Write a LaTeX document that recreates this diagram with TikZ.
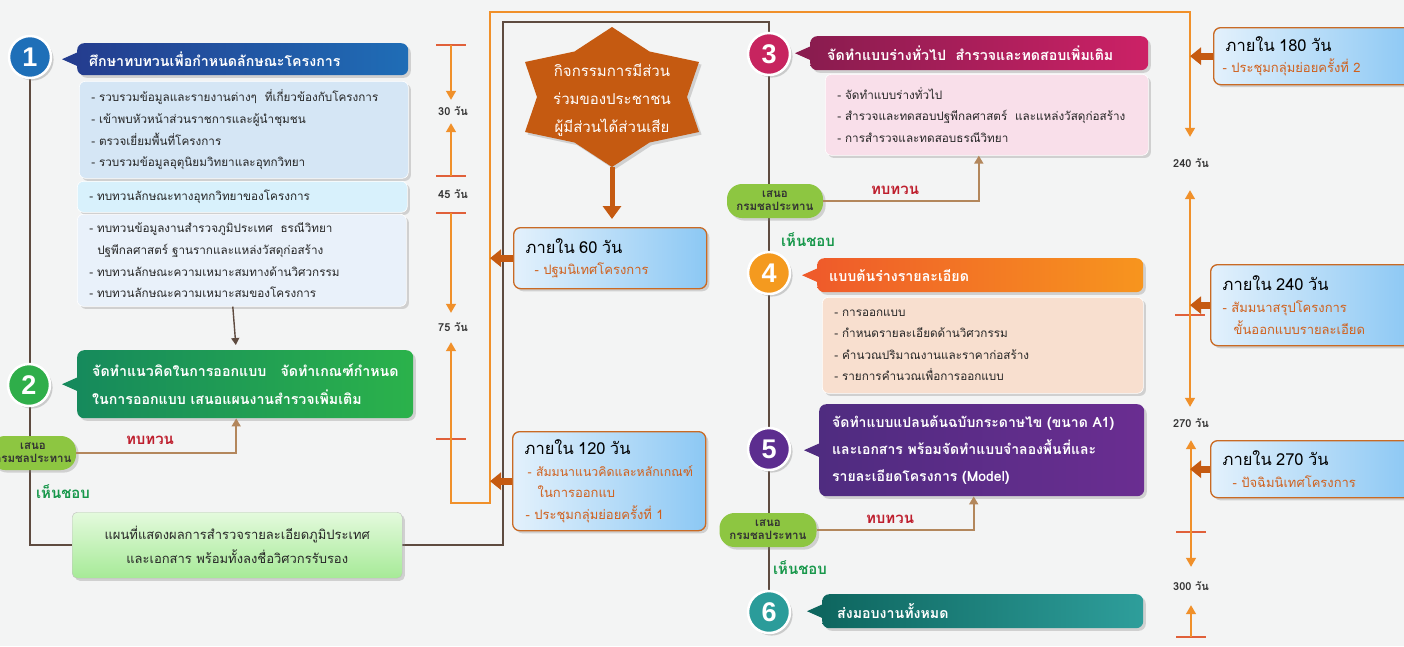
\documentclass[tikz,border=0pt]{standalone}
\usepackage{fontspec}
\setmainfont[Script=Thai]{Loma}
\newfontfamily\numfont{Liberation Sans}
\usetikzlibrary{arrows.meta, calc, shadows}
\exhyphenpenalty=10000

\definecolor{bgcol}{HTML}{F3F4F4}
\definecolor{trunk}{HTML}{5E4B40}
\definecolor{frameor}{HTML}{F0902A}
\definecolor{tickred}{HTML}{E0603A}
\definecolor{fbtan}{HTML}{B3875C}
\definecolor{bigor}{HTML}{C55A11}
\definecolor{subor}{HTML}{D0601C}
\definecolor{timeL}{HTML}{E3F1FC}
\definecolor{timeR}{HTML}{8CC8F4}
\definecolor{timeedge}{HTML}{C96A24}
\definecolor{pillg}{HTML}{8DC641}
\definecolor{okgreen}{HTML}{17974A}
\definecolor{revred}{HTML}{BE1E2D}
\definecolor{s1col}{HTML}{1E6FB8}
\definecolor{s1dark}{HTML}{243D8F}
\definecolor{s1light}{HTML}{1F6DB6}
\definecolor{s2col}{HTML}{2FAE4A}
\definecolor{s2dark}{HTML}{168A5C}
\definecolor{s2light}{HTML}{2BB24B}
\definecolor{s3col}{HTML}{C7245F}
\definecolor{s3dark}{HTML}{8A1C4F}
\definecolor{s3light}{HTML}{CC2166}
\definecolor{s4col}{HTML}{F49A1F}
\definecolor{s4dark}{HTML}{EF5B2A}
\definecolor{s4light}{HTML}{F7951E}
\definecolor{s5col}{HTML}{5C2D8F}
\definecolor{s5dark}{HTML}{4F2C80}
\definecolor{s5light}{HTML}{6A2D91}
\definecolor{s6col}{HTML}{2B9C9A}
\definecolor{s6dark}{HTML}{0E665F}
\definecolor{s6light}{HTML}{2E9E9B}
\definecolor{list1a}{HTML}{D5E6F5}
\definecolor{list1b}{HTML}{D8F1FC}
\definecolor{list1c}{HTML}{E9F1FA}
\definecolor{list3}{HTML}{F9DFEA}
\definecolor{list4}{HTML}{F8DFCF}
\definecolor{mapT}{HTML}{E4FADD}
\definecolor{mapB}{HTML}{A6EA97}

\newcommand\hdrfont{\bfseries\fontsize{14.2}{28}\selectfont}
\newcommand\listfont{\fontsize{11.7}{21.6}\selectfont}
\newcommand\subfont{\fontsize{13}{21.6}\selectfont}
\newcommand\titfont{\fontsize{16.5}{22}\selectfont}
\newcommand\pillfont{\bfseries\fontsize{11.5}{13}\selectfont}
\newcommand\dayfont{\bfseries\fontsize{11}{11}\selectfont}

\pgfdeclarelayer{back}
\pgfsetlayers{back,main}

\tikzset{
  stepnum/.style={circle, draw=white, line width=2.5pt, minimum size=42pt, inner sep=0pt, text=white, font=\numfont\bfseries\fontsize{27}{27}\selectfont, drop shadow={opacity=0.35}},
  hdr/.style={anchor=north west, rounded corners=7pt, inner xsep=12pt, inner ysep=0pt, align=left, text=white, font=\hdrfont, drop shadow={opacity=0.3}},
  listbox/.style={anchor=north west, rounded corners=6pt, inner xsep=12pt, inner ysep=0pt, align=left, font=\listfont, text=black!85, draw=white, line width=0.6pt, drop shadow={opacity=0.3}},
  timebox/.style={anchor=north west, rounded corners=7pt, draw=timeedge, line width=1.3pt, left color=timeL, right color=timeR, inner xsep=12pt, inner ysep=0pt, align=left, font=\subfont, drop shadow={opacity=0.3}},
  pill/.style={rounded corners=15pt, fill=pillg, minimum height=34pt, align=center, inner sep=0pt, font=\pillfont, text=black!80, drop shadow={opacity=0.3}},
  dayl/.style={font=\dayfont, text=black!80, inner sep=0pt, minimum width=34pt, minimum height=#1},
  trunkline/.style={draw=trunk, line width=1.6pt},
  tickline/.style={draw=tickred, line width=1.4pt},
  dayarrow/.style={draw=frameor, line width=1.4pt, -{Triangle[width=10pt,length=9pt]}},
  fbarrow/.style={draw=fbtan, line width=1.6pt, -{Triangle[width=9pt,length=8pt]}},
  bigarrow/.style={draw=bigor, line width=7pt, -{Triangle[width=17pt,length=11pt]}},
  revlabel/.style={font=\bfseries\fontsize{15}{15}\selectfont, text=revred},
  oklabel/.style={font=\bfseries\fontsize{15}{15}\selectfont, text=okgreen},
}

\begin{document}
\begin{tikzpicture}[x=1pt, y=-1pt]
  \begin{pgfonlayer}{back}
    \fill[bgcol] (0,0) rectangle (1404,646);
  \end{pgfonlayer}
  \useasboundingbox (0,0) rectangle (1404,646);

  % step 1 and 2
  \node[stepnum, fill=s1col] (c1) at (30,57) {1};
  \node[hdr, left color=s1dark, right color=s1light, text width=307pt, minimum height=32pt] (hdr1) at (77,43) {ศึกษาทบทวนเพื่อกำหนดลักษณะโครงการ};
  \fill[s1dark] ([xshift=3pt,yshift=8pt]hdr1.west) -- ++(-18pt,-8pt) -- ++(18pt,-8pt) -- cycle;
  \node[listbox, fill=list1a, text width=305pt, minimum height=97pt] (l1a) at (79,81) {- รวบรวมข้อมูลและรายงานต่างๆ~ ที่เกี่ยวข้องกับโครงการ\\- เข้าพบหัวหน้าส่วนราชการและผู้นำชุมชน\\- ตรวจเยี่ยมพื้นที่โครงการ\\- รวบรวมข้อมูลอุตุนิยมวิทยาและอุทกวิทยา};
  \node[listbox, fill=list1b, text width=306pt, minimum height=31pt] (l1b) at (77,181) {- ทบทวนลักษณะทางอุทกวิทยาของโครงการ};
  \node[listbox, fill=list1c, text width=305pt, minimum height=92pt] (l1c) at (77,214) {- ทบทวนข้อมูลงานสำรวจภูมิประเทศ~ ธรณีวิทยา\\\hspace*{8pt}ปฐพีกลศาสตร์ ฐานรากและแหล่งวัสดุก่อสร้าง\\- ทบทวนลักษณะความเหมาะสมทางด้านวิศวกรรม\\- ทบทวนลักษณะความเหมาะสมของโครงการ};

  \node[stepnum, fill=s2col] (c2) at (29,385) {2};
  \node[hdr, left color=s2dark, right color=s2light, text width=306pt, inner xsep=15pt, minimum height=68pt] (hdr2) at (77,350) {จัดทำแนวคิดในการออกแบบ~~ จัดทำเกณฑ์กำหนด\\ในการออกแบบ เสนอแผนงานสำรวจเพิ่มเติม};
  \fill[s2dark] ([xshift=3pt,yshift=8pt]hdr2.west) -- ++(-18pt,-8pt) -- ++(18pt,-8pt) -- cycle;
  \node[pill, minimum width=86pt] (p2) at (33,453) {เสนอ\\กรมชลประทาน};
  \node[revlabel] (rev2) at (150,440) {ทบทวน};
  \node[oklabel] (ok2) at (63,492) {เห็นชอบ};
  \node[anchor=north west, rounded corners=5pt, draw=black!25, top color=mapT, bottom color=mapB, text width=306pt, inner xsep=12pt, minimum height=66pt, align=center, font=\fontsize{13}{24}\selectfont, text=black!85, drop shadow={opacity=0.3}] (map) at (72,512) {แผนที่แสดงผลการสำรวจรายละเอียดภูมิประเทศ\\และเอกสาร พร้อมทั้งลงชื่อวิศวกรรับรอง};

  % participation
  \fill[bigor, drop shadow={opacity=0.3}] (612,27) -- (649.5,51.5) -- (699,62) -- (687,97) -- (699,132) -- (649.5,142.5) -- (612,167) -- (574.5,142.5) -- (525,132) -- (537,97) -- (525,62) -- (574.5,51.5) -- cycle;
  \node[align=center, text=white, font=\fontsize{15}{28}\selectfont] (act) at (612,100) {กิจกรรมการมีส่วน\\ร่วมของประชาชน\\ผู้มีส่วนได้ส่วนเสีย};
  \coordinate (starbot) at (612,167);

  \node[timebox, text width=169pt, minimum height=61pt] (t60) at (513,227) {{\titfont ภายใน 60 วัน}\\\color{subor}\hspace*{9pt}-~ปฐมนิเทศโครงการ};
  \node[timebox, inner xsep=9pt, text width=175pt, minimum height=99pt] (t120) at (512,431) {\hspace*{3pt}{\titfont ภายใน 120 วัน}\\\color{subor}\hspace*{6pt}\mbox{\fontsize{12.3}{21.6}\selectfont-~สัมมนาแนวคิดและหลักเกณฑ์}\\\color{subor}\hspace*{16pt}ในการออกแบ\\\color{subor}\hspace*{4pt}-~ประชุมกลุ่มย่อยครั้งที่ 1};

  % step 3 to 6
  \node[stepnum, fill=s3col] (c3) at (769,54) {3};
  \node[hdr, left color=s3dark, right color=s3light, text width=304pt, inner xsep=17pt, minimum height=34pt] (hdr3) at (810,36) {จัดทำแบบร่างทั่วไป~ สำรวจและทดสอบเพิ่มเติม};
  \fill[s3dark] ([xshift=3pt,yshift=8pt]hdr3.west) -- ++(-18pt,-8pt) -- ++(18pt,-8pt) -- cycle;
  \node[listbox, fill=list3, text width=299pt, minimum height=81pt] (l3) at (825,74) {- จัดทำแบบร่างทั่วไป\\- สำรวจและทดสอบปฐพีกลศาสตร์~ และแหล่งวัสดุก่อสร้าง\\- การสำรวจและทดสอบธรณีวิทยา};
  \node[pill, minimum width=96pt] (p3) at (775,201) {เสนอ\\กรมชลประทาน};
  \node[revlabel] (rev3) at (895,190) {ทบทวน};
  \node[oklabel] (ok3) at (808,240) {เห็นชอบ};

  \node[stepnum, fill=s4col] (c4) at (769,273) {4};
  \node[hdr, left color=s4dark, right color=s4light, text width=302pt, minimum height=34pt] (hdr4) at (817,258) {แบบต้นร่างรายละเอียด};
  \fill[s4dark] ([xshift=3pt,yshift=8pt]hdr4.west) -- ++(-18pt,-8pt) -- ++(18pt,-8pt) -- cycle;
  \node[listbox, fill=list4, text width=297pt, minimum height=96pt] (l4) at (822,297) {- การออกแบบ\\- กำหนดรายละเอียดด้านวิศวกรรม\\- คำนวณปริมาณงานและราคาก่อสร้าง\\- รายการคำนวณเพื่อการออกแบบ};

  \node[stepnum, fill=s5col] (c5) at (769,449) {5};
  \node[hdr, left color=s5dark, right color=s5light, text width=299pt, inner xsep=13pt, minimum height=92pt, font=\bfseries\fontsize{14}{27}\selectfont] (hdr5) at (819,404) {จัดทำแบบแปลนต้นฉบับกระดาษไข (ขนาด~A1)\\และเอกสาร พร้อมจัดทำแบบจำลองพื้นที่และ\\รายละเอียดโครงการ (Model)};
  \fill[s5dark] ([xshift=3pt,yshift=8pt]hdr5.west) -- ++(-18pt,-8pt) -- ++(18pt,-8pt) -- cycle;
  \node[pill, minimum width=97pt] (p5) at (768,530) {เสนอ\\กรมชลประทาน};
  \node[revlabel] (rev5) at (890,519) {ทบทวน};
  \node[oklabel] (ok5) at (800,568) {เห็นชอบ};

  \node[stepnum, fill=s6col] (c6) at (769,612) {6};
  \node[hdr, left color=s6dark, right color=s6light, text width=291pt, inner xsep=15pt, minimum height=34pt] (hdr6) at (822,594) {ส่งมอบงานทั้งหมด};
  \fill[s6dark] ([xshift=3pt,yshift=8pt]hdr6.west) -- ++(-18pt,-8pt) -- ++(18pt,-8pt) -- cycle;

  % time boxes on the right
  \node[timebox, text width=176pt, minimum height=57pt] (t180) at (1213,27) {{\titfont ภายใน 180 วัน}\\\color{subor}\hspace*{-3pt}-~ประชุมกลุ่มย่อยครั้งที่ 2};
  \node[timebox, text width=176pt, minimum height=81pt] (t240) at (1210,264) {{\titfont ภายใน 240 วัน}\\\color{subor}-~สัมมนาสรุปโครงการ\\\color{subor}\hspace*{11pt}ขั้นออกแบบรายละเอียด};
  \node[timebox, text width=176pt, minimum height=57pt] (t270) at (1210,440) {{\titfont ภายใน 270 วัน}\\\color{subor}\hspace*{10pt}-~ปัจฉิมนิเทศโครงการ};

  % day scale
  \node[dayl=23pt] (lab30) at (453,111.5) {30 วัน};
  \node[dayl=10pt] (lab45) at (453,194) {45 วัน};
  \node[dayl=29pt] (lab75) at (453,327.5) {75 วัน};
  \node[dayl=53pt] (lab240) at (1191,163.5) {240 วัน};
  \node[dayl=33pt] (lab270) at (1191,423.5) {270 วัน};
  \node[dayl=38pt] (lab300) at (1191,586) {300 วัน};
  \coordinate (tk30a) at (451,45);
  \coordinate (tk30b) at (451,176);
  \coordinate (tk45) at (451,213);
  \coordinate (tk75) at (451,439);
  \coordinate (tk240) at (1190,315);
  \coordinate (tk270) at (1191,532);
  \coordinate (tk300) at (1191,637);
  \coordinate (frB) at (490,503);
  \coordinate (frT) at (490,12);
  \coordinate (bendB) at (503,545);
  \coordinate (bendT) at (503,22);

  \foreach \t in {tk30a, tk30b, tk45, tk75, tk240, tk270, tk300}
    \draw[tickline] ([xshift=-15pt]\t) -- ([xshift=15pt]\t);
  \draw[dayarrow] (tk30a) -- (tk30a |- lab30.north);
  \draw[dayarrow] (tk30b) -- (tk30b |- lab30.south);
  \draw[dayarrow] (tk45) -- (tk45 |- lab75.north);
  \draw[dayarrow] (tk75) -- (tk75 |- lab75.south);
  \draw[dayarrow] (tk75) |- (frB) -- (frT) -| (tk240 |- lab240.north);
  \draw[dayarrow] (tk240) -- (tk240 |- lab240.south);
  \draw[dayarrow] (tk240) -- (tk240 |- lab270.north);
  \draw[dayarrow] (tk270) -- (tk270 |- lab270.south);
  \draw[dayarrow] (tk270) -- (tk270 |- lab300.north);
  \draw[dayarrow] (tk300) -- (tk300 |- lab300.south);

  \draw[bigarrow] (t60.west) -- (t60.west -| frB);
  \draw[bigarrow] (t120.west) -- (t120.west -| frB);
  \draw[bigarrow] (t180.west) -- (t180.west -| tk240);
  \draw[bigarrow] (t240.west) -- (t240.west -| tk240);
  \draw[bigarrow] (t270.west) -- (t270.west -| tk240);
  \draw[draw=bigor, line width=5pt, -{Triangle[width=18pt,length=13pt]}, shorten >=8pt] (starbot) -- (starbot |- t60.north);

  % flow lines
  \begin{pgfonlayer}{back}
    \draw[trunkline] (c1) |- (bendB) -- (bendT) -| (c3) -- (c6);
  \end{pgfonlayer}
  \draw[draw=trunk, line width=1.4pt, -{Triangle[width=8pt,length=7pt]}, shorten >=5pt] ([xshift=-9pt]l1c.south) -- ([xshift=-9pt]hdr2.north);
  \draw[fbarrow] (p2.east) -| ([xshift=-9pt]hdr2.south);
  \draw[fbarrow] (p3.east) -| ([xshift=-8pt]l3.south);
  \draw[fbarrow] (p5.east) -| ([xshift=-8pt]hdr5.south);
\end{tikzpicture}
\end{document}
